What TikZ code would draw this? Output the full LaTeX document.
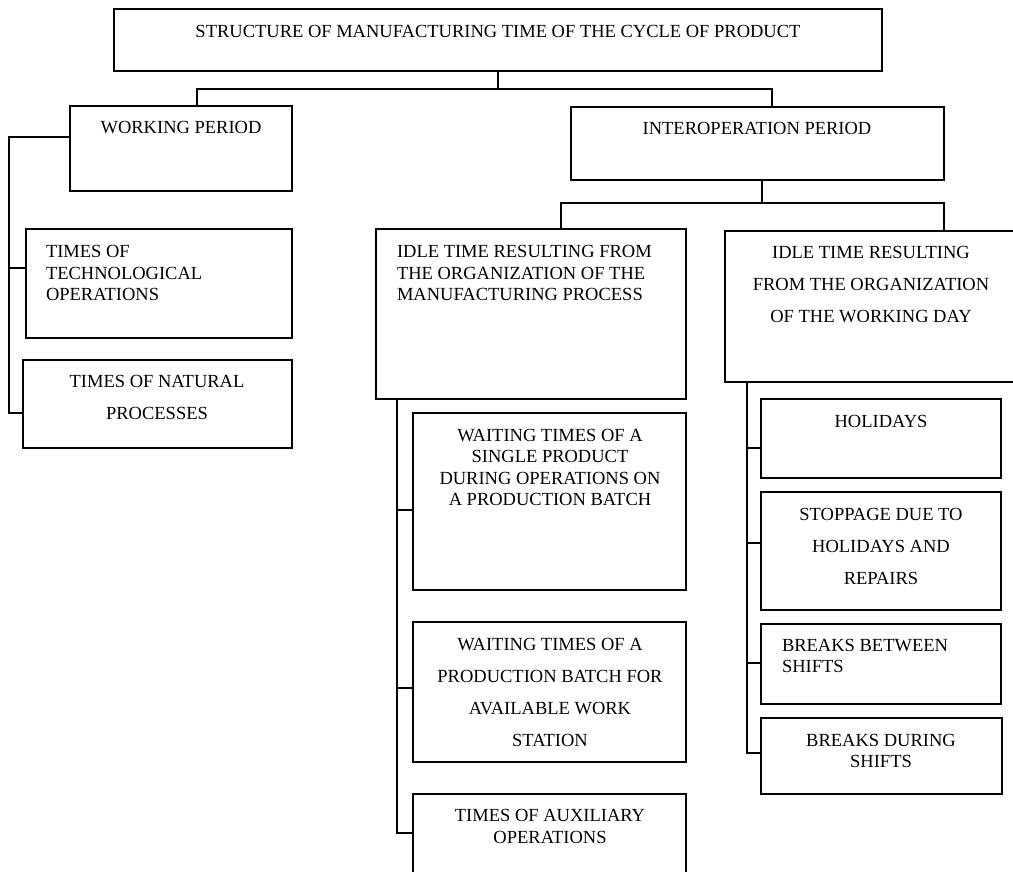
\documentclass[tikz,border=0pt]{standalone}
\usepackage{fontspec}
\setmainfont{Liberation Serif}
\begin{document}
\begin{tikzpicture}[x=1pt,y=-1pt,
  line width=1.7pt,
  box/.style={draw=black, inner sep=0pt, outer sep=0pt, anchor=north west},
  txt/.style={inner sep=0pt, outer sep=0pt, align=center, font=\fontsize{18.5}{21.3}\selectfont},
  txtl/.style={txt, align=left},
  txtd/.style={txt, font=\fontsize{18.5}{32}\selectfont}]
\fill[white] (0,0) rectangle (1013,872);
\clip (0,0) rectangle (1013,872);

% boxes: (x1,y1) width x height
\node[box, minimum width=768pt, minimum height=62pt]  (top)   at (114,9)   {};
\node[box, minimum width=222pt, minimum height=85pt]  (work)  at (70,106)  {};
\node[box, minimum width=373pt, minimum height=73pt]  (inter) at (571,107) {};
\node[box, minimum width=266pt, minimum height=109pt] (tech)  at (26,229)  {};
\node[box, minimum width=269pt, minimum height=88pt]  (nat)   at (23,360)  {};
\node[box, minimum width=310pt, minimum height=170pt] (idle1) at (376,229) {};
\node[box, minimum width=290pt, minimum height=151pt] (idle2) at (725,231) {};
\node[box, minimum width=273pt, minimum height=177pt] (wait1) at (413,413) {};
\node[box, minimum width=273pt, minimum height=140pt] (wait2) at (413,622) {};
\node[box, minimum width=273pt, minimum height=95pt]  (aux)   at (413,794) {};
\node[box, minimum width=240pt, minimum height=79pt]  (hol)   at (761,399) {};
\node[box, minimum width=240pt, minimum height=118pt] (stop)  at (761,492) {};
\node[box, minimum width=240pt, minimum height=80pt]  (bbet)  at (761,624) {};
\node[box, minimum width=241pt, minimum height=76pt]  (bdur)  at (761,718) {};

% texts
\node[txt]  (ttop)   at (498,31)    {STRUCTURE OF MANUFACTURING TIME OF THE CYCLE OF PRODUCT};
\node[txt]  (twork)  at (181,128)   {WORKING PERIOD};
\node[txt]  (tinter) at (757,128)   {INTEROPERATION PERIOD};
\node[txtl, anchor=west] (ttech) at (46,273) {TIMES OF\\TECHNOLOGICAL\\OPERATIONS};
\node[txtd] (tnat)   at (157,397.5) {TIMES OF NATURAL\\PROCESSES};
\node[txtl, anchor=west] (tidle1) at (397,273) {IDLE TIME RESULTING FROM\\THE ORGANIZATION OF THE\\MANUFACTURING PROCESS};
\node[txtd] (tidle2) at (871,285)   {IDLE TIME RESULTING\\FROM THE ORGANIZATION\\OF THE WORKING DAY};
\node[txt]  (twait1) at (550,467.5) {WAITING TIMES OF A\\SINGLE PRODUCT\\DURING OPERATIONS ON\\A PRODUCTION BATCH};
\node[txtd] (twait2) at (550,692)   {WAITING TIMES OF A\\PRODUCTION BATCH FOR\\AVAILABLE WORK\\STATION};
\node[txt]  (taux)   at (550,826.5) {TIMES OF AUXILIARY\\OPERATIONS};
\node[txt]  (thol)   at (881,421)   {HOLIDAYS};
\node[txtd] (tstop)  at (881,546)   {STOPPAGE DUE TO\\HOLIDAYS AND\\REPAIRS};
\node[txtl, anchor=west] (tbbet) at (782,656) {BREAKS BETWEEN\\SHIFTS};
\node[txt]  (tbdur)  at (881,751)   {BREAKS DURING\\SHIFTS};

% junction coordinates
\coordinate (j1) at (498,89);
\coordinate (j2) at (762,203);
\coordinate (lb) at (9,413);
\coordinate (s1) at (9,268);
\coordinate (a1) at (397,510);
\coordinate (a2) at (397,688);
\coordinate (a3) at (397,833);
\coordinate (b1) at (747,448);
\coordinate (b2) at (747,543);
\coordinate (b3) at (747,663);
\coordinate (b4) at (747,753);

% connectors
\draw (top.south) -- (j1);
\draw ([xshift=127pt]work.north west) |- (j1) -| ([xshift=201pt]inter.north west);
\draw ([xshift=191pt]inter.south west) -- (j2);
\draw ([xshift=185pt]idle1.north west) |- (j2) -| ([xshift=219pt]idle2.north west);

\draw ([yshift=-31pt]work.north west) -| (lb) -- (lb -| nat.west);
\draw (s1) -- (s1 -| tech.west);

\draw ([xshift=21pt]idle1.south west) -- (a3) -- (a3 -| aux.west);
\draw (a1) -- (a1 -| wait1.west);
\draw (a2) -- (a2 -| wait2.west);

\draw ([xshift=22pt]idle2.south west) -- (b4) -- (b4 -| bdur.west);
\draw (b1) -- (b1 -| hol.west);
\draw (b2) -- (b2 -| stop.west);
\draw (b3) -- (b3 -| bbet.west);
\end{tikzpicture}
\end{document}
